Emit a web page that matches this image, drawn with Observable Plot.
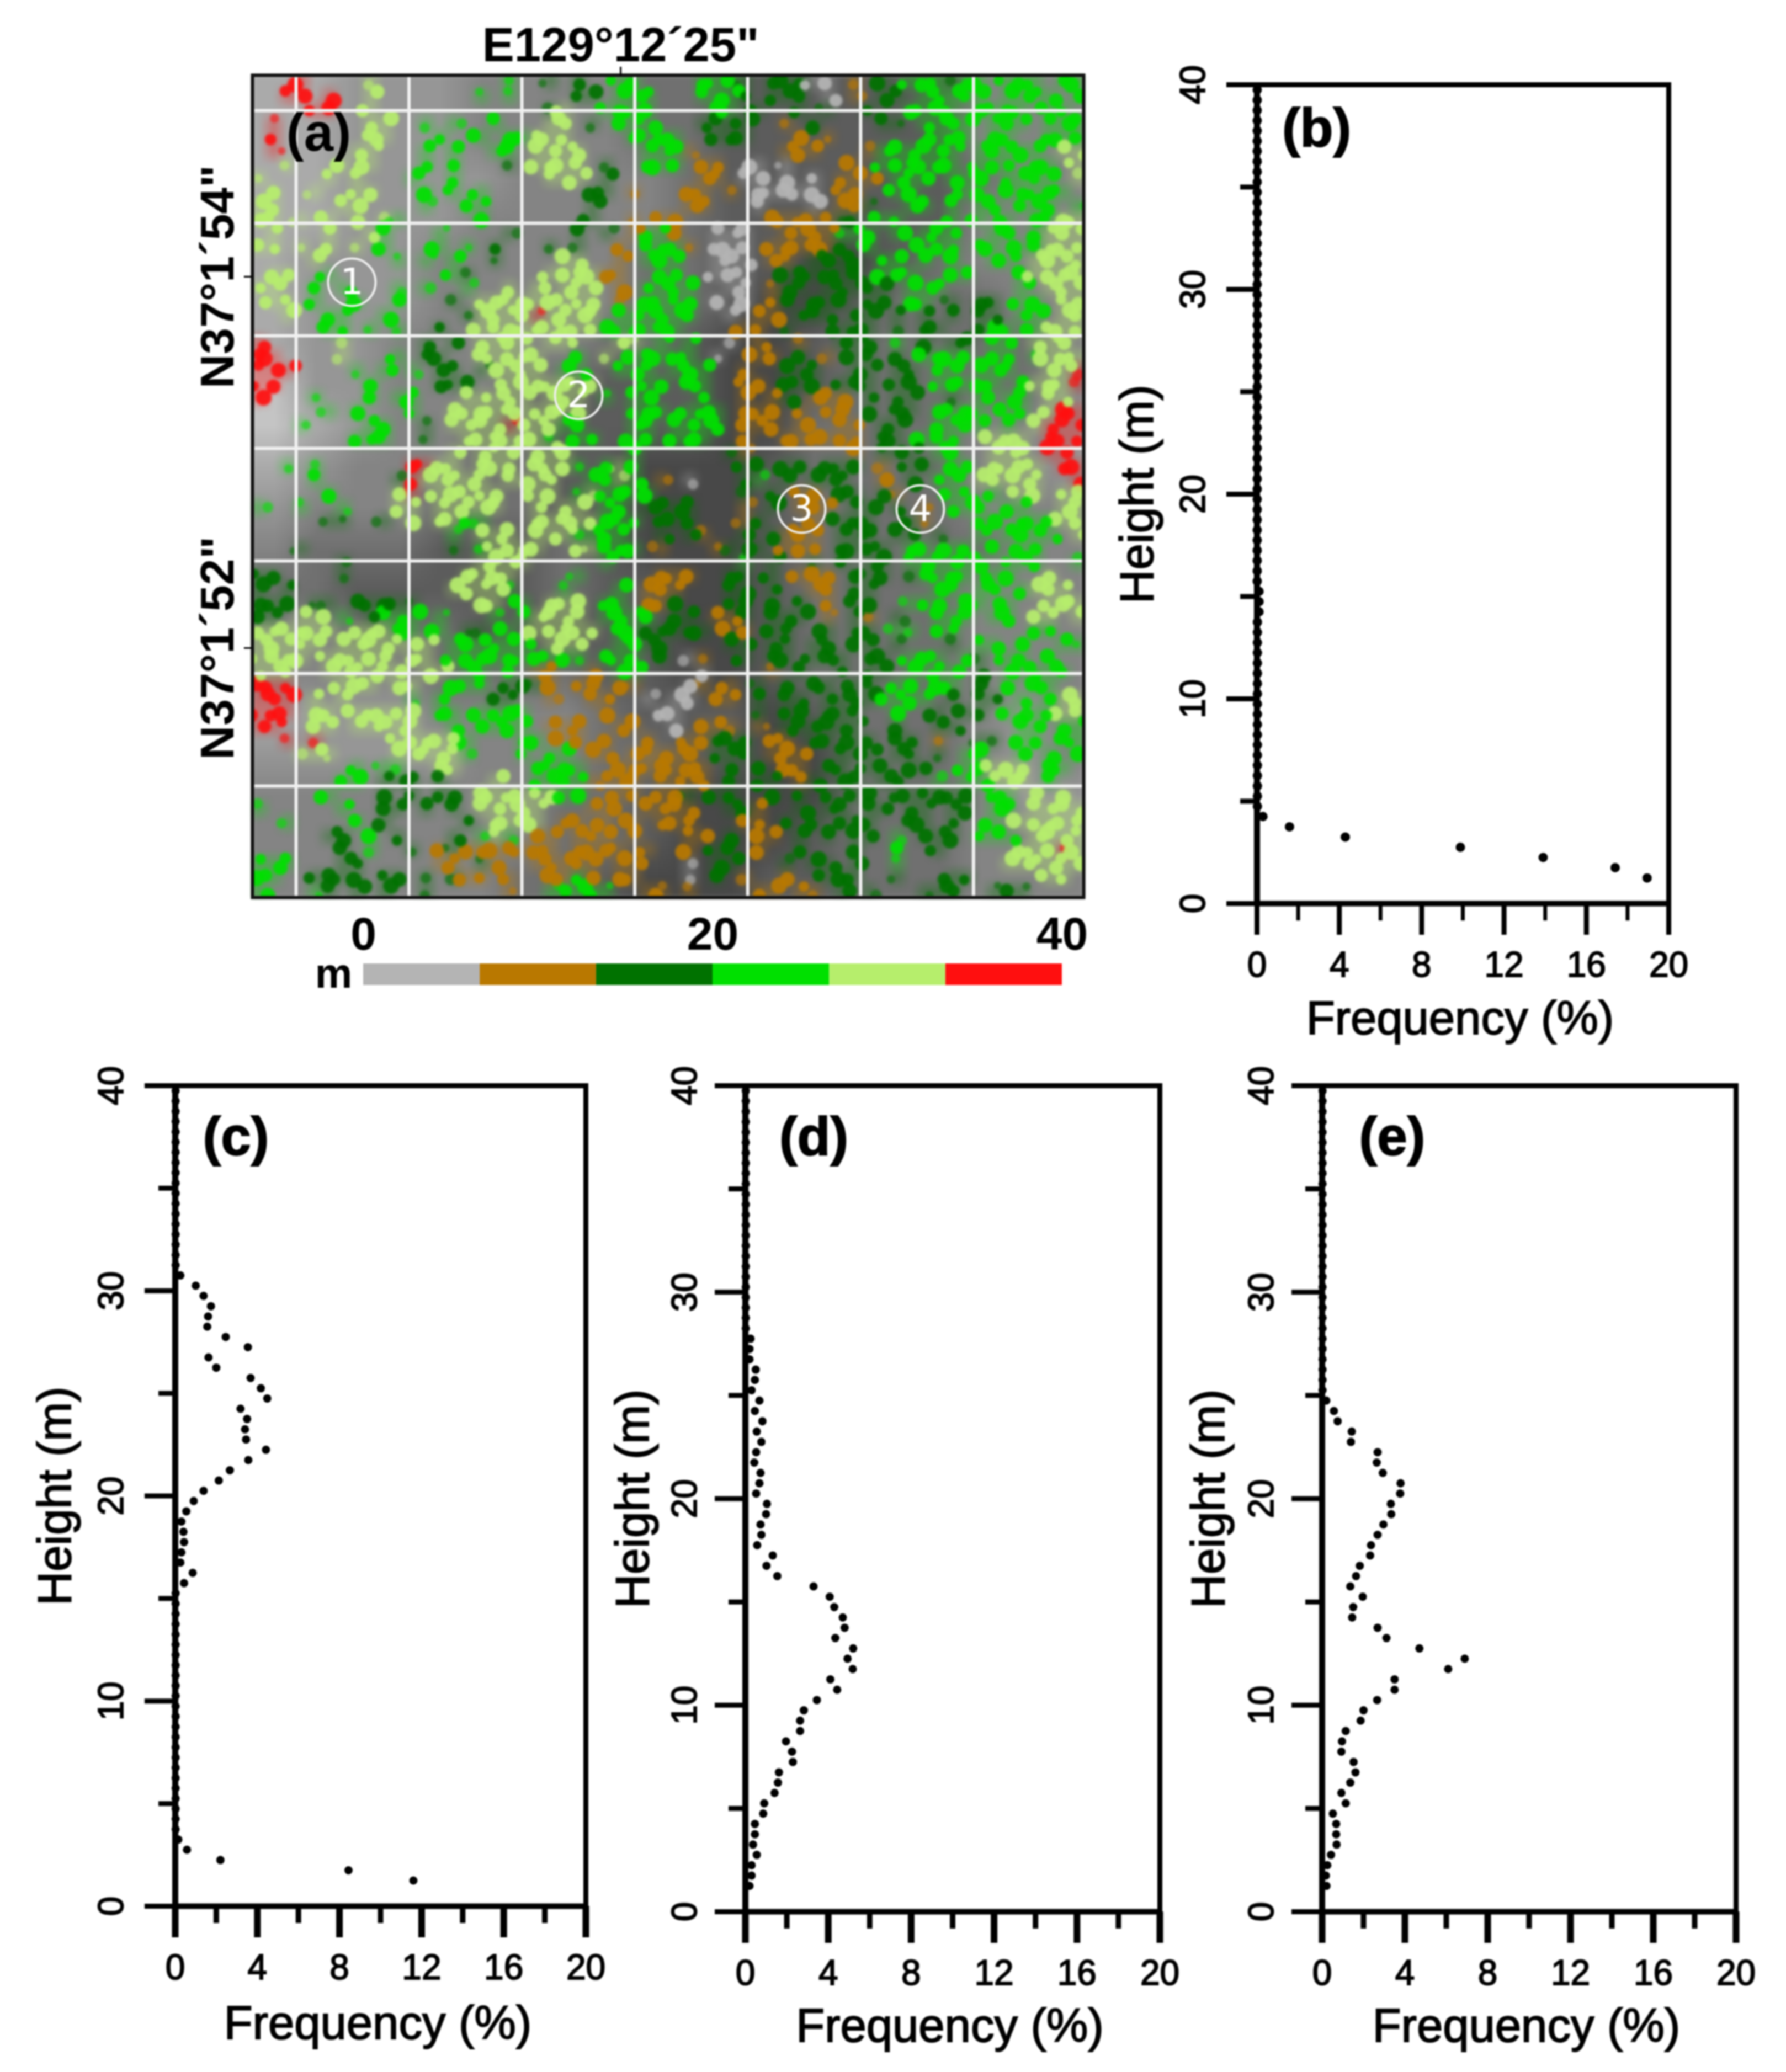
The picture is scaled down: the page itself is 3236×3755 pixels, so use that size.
<!DOCTYPE html>
<html><head><meta charset="utf-8">
<script src="https://cdn.jsdelivr.net/npm/d3@7"></script>
<script src="https://cdn.jsdelivr.net/npm/@observablehq/plot@0.6"></script>
<style>
html,body{margin:0;padding:0;background:#fff;width:3236px;height:3755px;overflow:hidden}
#page{position:relative;width:3236px;height:3755px;font-family:"Liberation Sans",Arial,sans-serif}
.hist text{stroke:#000;stroke-width:1.9px}
</style></head><body><div id="page"></div>
<script>
// ---------- histogram data (height bins in m, frequency in %) ----------
const heights=[0.25,0.75,1.25,1.75,2.25,2.75,3.25,3.75,4.25,4.75,5.25,5.75,6.25,6.75,7.25,7.75,8.25,8.75,9.25,9.75,10.25,10.75,11.25,11.75,12.25,12.75,13.25,13.75,14.25,14.75,15.25,15.75,16.25,16.75,17.25,17.75,18.25,18.75,19.25,19.75,20.25,20.75,21.25,21.75,22.25,22.75,23.25,23.75,24.25,24.75,25.25,25.75,26.25,26.75,27.25,27.75,28.25,28.75,29.25,29.75,30.25,30.75,31.25,31.75,32.25,32.75,33.25,33.75,34.25,34.75,35.25,35.75,36.25,36.75,37.25,37.75,38.25,38.75,39.25,39.75];
const freqB=[null,null,18.95,17.4,13.9,9.88,4.29,1.58,0.29,0.02,0.02,0.02,0.02,0.02,0.02,0.02,0.02,0.02,0.02,0.02,0.02,0.02,0.02,0.02,0.02,0.02,0.02,0.02,0.1,0.1,0.1,0.01,0.01,0.01,0.01,0.01,0.01,0.01,0.01,0.01,0.01,0.01,0.01,0.01,0.01,0.01,0.01,0.01,0.01,0.01,0.01,0.01,0.01,0.01,0.01,0.01,0.01,0.01,0.01,0.01,0.01,0.01,0.01,0.01,0.01,0.01,0.01,0.01,0.01,0.01,0.01,0.01,0.01,0.01,0.01,0.01,0.01,0.01,0.01,0.01];
const freqC=[null,null,11.6,8.44,2.2,0.57,0.15,0.02,0.02,0.02,0.02,0.02,0.02,0.02,0.02,0.02,0.02,0.02,0.02,0.02,0.02,0.02,0.02,0.02,0.02,0.02,0.02,0.02,0.02,0.02,0.02,0.43,0.85,0.25,0.3,0.43,0.4,0.3,0.54,0.9,1.38,2.12,2.66,3.56,4.42,3.45,3.4,3.5,3.18,4.48,4.17,3.67,2.0,1.62,3.54,2.46,1.56,1.6,1.74,1.38,1.0,0.25,0.02,0.02,0.02,0.02,0.02,0.02,0.02,0.02,0.02,0.02,0.02,0.02,0.02,0.02,0.02,0.02,0.02,0.02];
const freqD=[null,null,0.2,0.3,0.3,0.55,0.37,0.46,0.46,0.86,0.91,1.41,1.57,1.62,2.29,2.25,1.96,2.64,2.64,2.82,3.45,4.43,4.1,5.18,4.93,5.2,4.34,4.79,4.7,4.29,4.07,3.29,1.54,1.02,1.32,0.57,0.77,0.73,1.0,1.04,0.52,0.68,0.73,0.43,0.52,0.77,0.55,0.82,0.46,0.68,0.3,0.46,0.5,0.2,0.2,0.25,0.02,0.02,0.02,0.02,0.02,0.02,0.02,0.02,0.02,0.02,0.02,0.02,0.02,0.02,0.02,0.02,0.02,0.02,0.02,0.02,0.02,0.02,0.02,0.02];
const freqE=[null,null,0.21,0.18,0.25,0.43,0.7,0.68,0.68,0.52,1.14,0.93,1.36,1.61,1.52,0.93,0.96,1.14,1.86,2.0,2.66,3.5,3.5,6.09,6.89,4.7,3.11,2.68,1.45,1.5,1.96,1.36,1.64,1.82,2.32,2.36,2.68,2.96,3.34,3.32,3.77,3.79,2.93,2.64,2.68,1.39,1.43,0.75,0.57,0.2,0.02,0.02,0.02,0.02,0.02,0.02,0.02,0.02,0.02,0.02,0.02,0.02,0.02,0.02,0.02,0.02,0.02,0.02,0.02,0.02,0.02,0.02,0.02,0.02,0.02,0.02,0.02,0.02,0.02,0.02];
const yMajor=[0,10,20,30,40], yMinor=[5,15,25,35];
const xMajor=[0,4,8,12,16,20], xMinor=[2,6,10,14,18];

// ---------- canopy height map (a) ----------
const classes=["S","B","D","G","L","R"];
const classColors=["#b4b4b4","#b97800","#007200","#00e000","#b6ee6c","#ff0f0f"];
const classEdges=[0,6.67,13.33,20,26.67,33.33,40];
const grays=["0","1","2","3","4","5","6"];
const grayColors=["#c4c4c4","#aaaaaa","#969696","#848484","#707070","#5c5c5c","#484848"];
const ground=[
"11222333344555555333","11222333344555555333","11222233334555555433","11222333334555555333",
"12223333344556654333","12223333344566544433","12233333445665444443","02233344555665444443",
"01233445555664444332","12333445566654444332","23334445566654444333","34445554566654444433",
"44555554556654444333","33444555556654444333","33334444556654444333","12223333455565444323",
"22222333445566444323","33333334456666444322","33333334456665444332","33333344566655444333"];
const mapTL=[
"...R....L.........G..D.D..GG..","..RR.R..L.......G.G....DD.GGG.","....RR..L............DL..GGGG.",".R......LL..G.G..G...LL.D.GGG.",
".R......LL...G..G.GGLLL....GGG",".R.....LL...G.G..GG.LLLL....GG","..L...L.L...G.G...D.LLLL.D..GG","L....L.L...G..G......LLL.D....",
".L..L..LL...G.G.G.......DD.B..","LL....LL....G..GG.......D.....","LL.L.L.L.LG.....G.......D..B.B",".L...L..LG...G....D....D.D.BGG",
"LL.L.L.L.G...G.G.D...D.D..B.GG","....L.....G.G.G..D....LL..B.GG",".LL..G........GD.....LLLLBB..G","LL..G.G...G.G..G..L.L.LLL.B.GG",
".LL.G..G..G...D.LLLLLLLLL.B.GG","..L..GG..G.....DLLLLRLLLL.GGGG",".....GG.G.G..D..LLLLLLLLLGGGGG","R.....L.....D.D.LLLL.LL...LL.G",
"RR....L...G.DD..LLLLL..G.L.GGG","RRR....G.G.G.DD.DLLLL.GG..GGG.","RR......G....DDD..LLLLLLL...GG","R...G...G.GG...LLLLL.LLL.G.GG.",
".....G.G...G..LLLLLLLLLL...GGG","...G....GG..D.LLLLRLLLGG...GG.",".......GGG..D..LLLLLLG.GG..GG.","..............L.LLL.LLL....G..",
"..G.G......RRLL.LLL.LLLG.GLG..","....G.....DRLLLLL.LLLL..GGLG.B"];
const mapTR=[
"..GGGD.DDDSS.B.D.GGGDGG.GGG.GG","..GGGD.DDD.S.B.DD.GGGGG.GGGG.G","...GG.D..D.D..D..GGGG.GGGG.GG.","..DDDD..B.D....DD.GGGG.GGG.GGG",
"G..DDD...B.B.......GGG.GG..GGG","GB......BBB...BGGGGGG.GGGGG.LL","G.BB..S.S....B.GGGGGG.GGG.GG.L","..BB.SS.S.S.BBB.GGG.GGG.GGGG.L",
".BB.B.SSSSS.BB..GG...GG.GGGGG.",".BB...S...S.BBD..GG.G.GG.GGG.G","B......BBBBBDD.GG...G.G.G.GGLL","B..SSS..BBBBGGG.G.GGG..GG.GLLL",
"GB.SSS.BBBBBD.G...GGG.GG.GGLLL","G..SSS.BB.DDDD.GG.G.G..GG.LLLL","G..SSS..DDDDDD.GGG..GG...GLLLL","GG..SS.BDD.DDDDD.GGG.....G.LLL",
"GG.S.S.BD.DDD.DD.GG.D.DD.GG.LL","GG..S.BB.DDD.DD.D.D.D.DD.GG.LL","G....BB.D...DDD.D.DD..DGG.GLLL",".G..S.B..B..DDD.G.D.DD.GG.LLL.",
"GG.S..BB.D.B.DD.D.GGGG.GG.GLLL","GGG..B..DDD..DD.DD.GG.GGG..LLR",".GG..BB.DDD.DDD.DD.GGGGG.GLLLR","..G..B.BD.BBB.D.DD..D.G.GG.LL.",
".GGG.BBB.B.BB.D.DD.GGGG.GG.LRR","GGGG.BBB.B..BB.DD..GGGG.G.LRRR","GGG..B..BBBBBB.DD.GGG..LLL.RRR","....DB.......B.DDD.GG..LLL.RR.",
".....DD.DD.DDD.B.DD.GG.LLLL.RR",".S...DG.D.DDD..B.D.GG.LLLLL..R"];
const mapBL=[
".....G....LR.LLLLL..LL.GLGGGG.","G..G..G...LL.LLLLL..L.LL.GG.DD",".....DD..D.L.LLGG...LLLLLGGG.D","..............G.LLL.LLLGGGG..D",
"...D..........D.GLLLL..LLGGG.B","......D.........LLLL.....G....","DD....D........LLLL....G.....B","D.D...........LLLLG...G...G.BB",
"DDD.DD.DDDDD....LL.G.LLL.GG.BB","DD.LL.G.DGGG.G...G.GLLLL.GGGG.","LLLLLL.LLLGG.G.DD.G.LLLLL.GGDD","LLLLL.LLLLLLL.GGGGGG.LLL..GGDD",
"LLLL.LLLLL.LL.GGGGGGGGGG.GGG.D","LLL..LLLLLL.LL.GG.G.BB..B.GG..","RRR...LLL.LL..GGG.DDDB.BB.BB..","RRR.L.L....G.G...DD..B..BB..S.",
"RRR.LL.LLLLL.GG.GGGG.....B...S","RR..LL.LLLLL..G.GGGG.BBB..BB..","..R.R.....LLLLLG...GG.BB.B..B.","...LLL....LLLLLG...G.GG.BB.BBB",
".......G.GG..LL.....GGGG..BBBB","......GG.DDD.D...L..GGGGBBBB.B",".....G...D.D.DD.LLLLLLGG..BB.B","G.....G..DD.D.D.LLLLL...BB..BB",
"..G....G.D.....D.LLLL.BB.B.B.B",".....DD.G.D...D.GLG.BB.BBB.B..","......D.G..D.BDBBBBBBB.BBBB.B.","GGG...DD.....BB.DB..BBBBB.BB..",
"GG..DDDD.DD.D.DBB.B..BBGB.BB..","G...GD.D.D..D.....B..GGGGG..BB"];
const mapBR=[
".....D.D.BB.DD.DB...GG.G.LL.LL","DD...B.D.BBB.DD.D.B.GGG.GG..LL","DD...BD...B.DDD..DB...GG.GGGLL",".DB..D.DBBB.DDD.DD.D..G.GGGG.L",
"...BD.D.BBB.DDDD.GG.GG.G.GG...",".....G.D..D.D.DD.GGGGGG.GGG..G","BB..DD.D.BBB.DDD.DGGGG.GG..L..","B...DD.D..BB.DD....GG.GG.GLLL.",
"D...DD.D.D.B.DD..GGG.GG.G..LLL","DD.BBD.DDD.B.DB.D..GGG.GG.LL.L","DDD.BB.DD..D.DD.GG.GG.....GG..","....DD.DD.DD.DD.D...D.GG.G..GG",
".SB..D.DD.DDD.DD.GGG.GD.GG.G..","..S....B.D..D.DD.GGGG.D.GGGGG.",".SB.B.D.D.DD.DD.GG.GG.D.G.GG..","SS.BB.D.DD.DDDDGGGG.D.DD.G.GLL",
"S.....D.DD.DDD..G..D.DD.G.GGLL","S.BBB.B.DDDDDD..D..DD....GG.GG",".BBDDD.BB.DD.DD.DD.B..DD.GG.GG","BB.DDD.BBB..DDD.DD.D.GG..G.G.G",
"BBB.D.D.BB.DD.DD.DD..GGLLL.GG.","BBB.D.DD.BD.DD.DD..G.GGLLL.G..","BD.DD..D.D.D.DD.DDDDDD.GG.L.L.","BB..DDB..D.DD.DD.DD.DD.GG.LLLL",
"BB...BB.D.D.DDD..DD.D..G.LLLLL",".BB.D.BB.D.D.DD.G.DDD.GGG.LLLL",".B.DD.B..D...D..G..D.....LLLRL",".S.DD...D.DD.D..G.......LLLLLL",
".S.D.B..B..DDD..D...DD.....LL.",".B....BB.BB.D.D...DDD..DDD...."];
const gridLines=[0,10,20,30,40,50,60];
const mapX=[-3.86,69.76], mapY=[-3.14,69.9];
const sites=[{x:4.94,y:15.24,n:"1"},{x:25.03,y:25.29,n:"2"},{x:44.78,y:35.39,n:"3"},{x:55.29,y:35.39,n:"4"}];
const lonTick=[28.75], lonLabel="E129°12´25\"";
const latTicks=[14.75,47.74], latLabels=["N37°1´54\"","N37°1´52\""];
const barTicks=[0,20,40];
const offsetX=[-0.32,0.12,0.36,-0.16,0.26,-0.38,0.05], offsetY=[0.22,-0.3,0.08,0.34,-0.12,-0.36,0.18,0.02];
const blobRadius=[10.5,13.5,11.5,14.5,12,9.5,13];

const page=document.getElementById("page");
const font='"Liberation Sans",Arial,sans-serif';
function place(svg,left,top,cls){
  svg.style.position="absolute";svg.style.left=left+"px";svg.style.top=top+"px";
  svg.style.background="transparent";svg.style.maxWidth="none";svg.style.filter="blur(1.6px)";
  if(cls)svg.classList.add(cls);
  page.appendChild(svg);
}

function pad(s){return (s+"..............................").slice(0,30);}
const overlayRows=[...mapTL.map((r,i)=>pad(r)+pad(mapTR[i])),...mapBL.map((r,i)=>pad(r)+pad(mapBR[i]))];
const stepX=(mapX[1]-mapX[0])/60, stepY=(mapY[1]-mapY[0])/60;
const cells=[], overlay=[];
overlayRows.forEach((r,j)=>{[...r].forEach((c,i)=>{
  overlay.push(c);
  if(c!=="."){
    let near=0;
    for(let a=-1;a<=1;a++)for(let b=-1;b<=1;b++){
      if((a||b)&&overlayRows[j+a]&&overlayRows[j+a][i+b]===c)near++;
    }
    const ox=offsetX[(i+3*j)%7]+(j%2?0.25:-0.25), oy=offsetY[(2*i+j)%8];
    const base=blobRadius[(i+5*j)%7];
    cells.push({c,near,x:mapX[0]+(i+0.5+ox)*stepX,y:mapY[0]+(j+0.5+oy)*stepY,r:near>=2?base:base*0.72});
  }
});});
const groundCells=ground.flatMap(r=>[...r]);

const colorOpt={type:"ordinal",domain:[...grays,...classes],range:[...grayColors,...classColors],unknown:null};

// map panel
const mapLeft=457,mapTop=136,mapW=1506,mapH=1490;
const mapSvg=Plot.plot({
  width:mapW+157+12,height:mapH+136+14,
  marginLeft:157,marginRight:12,marginTop:136,marginBottom:14,
  x:{domain:mapX},y:{domain:mapY,reverse:true},color:colorOpt,r:{type:"identity"},
  style:{fontFamily:font},
  marks:[
    Plot.raster(groundCells,{width:20,height:20,x1:mapX[0],x2:mapX[1],y1:mapY[0],y2:mapY[1],fill:d=>d}),
    Plot.raster(overlay,{width:60,height:60,x1:mapX[0],x2:mapX[1],y1:mapY[0],y2:mapY[1],fill:d=>d,fillOpacity:0.34}),
    Plot.dot(cells.filter(d=>d.near<2),{x:"x",y:"y",r:"r",fill:"c",fillOpacity:0.62,clip:true}),
    Plot.dot(cells.filter(d=>d.near>=2),{x:"x",y:"y",r:"r",fill:"c",fillOpacity:0.92,clip:true}),
    Plot.ruleX(gridLines,{stroke:"#f0f0f0",strokeWidth:6}),
    Plot.ruleY(gridLines,{stroke:"#f0f0f0",strokeWidth:6}),
    Plot.frame({stroke:"#111",strokeWidth:6}),
    Plot.dot(sites,{x:"x",y:"y",r:43,stroke:"#eeeeee",strokeWidth:4,fill:"none"}),
    Plot.text(sites,{x:"x",y:"y",text:"n",fill:"#fff",fontSize:66,fontFamily:"DejaVu Sans"}),
    Plot.axisX({anchor:"top",ticks:lonTick,tickSize:16,tickPadding:10,tickFormat:()=>lonLabel,fontSize:87,fontWeight:"bold",label:null,strokeWidth:3}),
    Plot.axisY({anchor:"left",ticks:latTicks,tickSize:15,tickPadding:20,tickRotate:-90,tickFormat:(d,i)=>latLabels[i],fontSize:86,fontWeight:"bold",label:null,strokeWidth:3}),
    Plot.text(["(a)"],{frameAnchor:"top-left",dx:120,dy:106,fontSize:96,fontWeight:"bold",textAnchor:"middle",lineAnchor:"middle"})
  ]});
place(mapSvg,mapLeft-157,mapTop-136);
mapSvg.querySelectorAll("image").forEach(n=>{n.style.filter="blur(3px)";});
const blobGroups=mapSvg.querySelectorAll('g[aria-label="dot"]');
if(blobGroups[0])blobGroups[0].style.filter="blur(2px)";
if(blobGroups[1])blobGroups[1].style.filter="blur(2px)";

// colour bar
const barRows=classes.map((c,i)=>({c,x1:classEdges[i],x2:classEdges[i+1]}));
const barSvg=Plot.plot({
  width:1450,height:185,marginLeft:98,marginRight:86,marginTop:106,marginBottom:40,
  x:{domain:[0,40]},y:{domain:[0,1],axis:null},color:colorOpt,style:{fontFamily:font},
  marks:[
    Plot.rectY(barRows,{x1:"x1",x2:"x2",y1:0,y2:1,fill:"c"}),
    Plot.axisX({anchor:"top",ticks:barTicks,tickSize:0,tickPadding:26,fontSize:84,fontWeight:"bold",label:null}),
    Plot.text(["m"],{frameAnchor:"left",dx:-54,fontSize:76,fontWeight:"bold",textAnchor:"middle"})
  ]});
place(barSvg,560,1640);

// histogram panels
function hist(c){
  const rows=heights.map((h,i)=>({h,f:c.freq[i]}));
  const svg=Plot.plot({
    width:c.w+c.ml+40,height:c.hh+60+260,marginLeft:c.ml,marginRight:40,marginTop:60,marginBottom:260,
    x:{domain:[0,20]},y:{domain:[0,40]},style:{fontFamily:font},
    marks:[
      Plot.frame({stroke:"#000",strokeWidth:9}),
      Plot.ruleX([0],{stroke:"#000",strokeWidth:11}),
      Plot.ruleY([0],{stroke:"#000",strokeWidth:10}),
      Plot.axisY({anchor:"left",ticks:yMajor,tickSize:55,tickPadding:c.ypad,tickRotate:-90,fontSize:64,label:null,strokeWidth:9}),
      Plot.axisY({anchor:"left",ticks:yMinor,tickSize:30,tickFormat:()=>"",label:null,strokeWidth:9}),
      Plot.axisX({anchor:"bottom",ticks:xMajor,tickSize:57,tickPadding:c.xpad,fontSize:64,label:null,strokeWidth:c.tw}),
      Plot.axisX({anchor:"bottom",ticks:xMinor,tickSize:31,tickFormat:()=>"",label:null,strokeWidth:c.tw-2}),
      Plot.dot(rows,{x:"f",y:"h",r:c.r,fill:"#000"}),
      Plot.text(["Height (m)"],{frameAnchor:"left",dx:-c.lx,rotate:-90,fontSize:85,textAnchor:"middle",lineAnchor:"middle"}),
      Plot.text(["Frequency (%)"],{frameAnchor:"bottom",dx:-5,dy:c.ly,fontSize:85,textAnchor:"middle",lineAnchor:"middle"}),
      Plot.text([c.tag],{frameAnchor:"top-left",dx:c.tx,dy:c.ty,fontSize:98,fontWeight:"bold",textAnchor:"middle",lineAnchor:"middle"})
    ]});
  place(svg,c.left-c.ml,c.top-60,"hist");
}
hist({freq:freqB,tag:"(b)",left:2277,top:153,w:746,hh:1484,ml:270,lx:216,ly:209,tx:108,ty:80,ypad:40,xpad:30,r:8.5,tw:9});
hist({freq:freqC,tag:"(c)",left:317,top:1967,w:744,hh:1487,ml:300,lx:217,ly:213,tx:110,ty:94,ypad:40,xpad:30,r:7.5,tw:12});
hist({freq:freqD,tag:"(d)",left:1350,top:1967,w:751,hh:1497,ml:255,lx:203,ly:208,tx:124,ty:94,ypad:34,xpad:30,r:7.5,tw:12});
hist({freq:freqE,tag:"(e)",left:2395,top:1967,w:750,hh:1497,ml:255,lx:205,ly:208,tx:127,ty:94,ypad:34,xpad:30,r:7.5,tw:12});
</script></body></html>
